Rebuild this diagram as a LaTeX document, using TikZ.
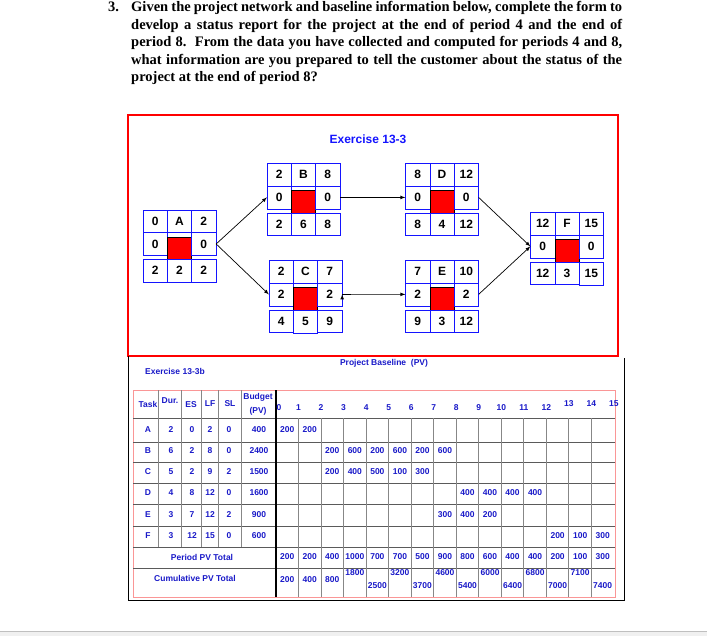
\documentclass[tikz,border=0pt]{standalone}
\usepackage{fontspec}
\setmainfont{Liberation Serif}
\newfontfamily\arialfont{Liberation Sans}
\usepackage{tikz}
\usetikzlibrary{arrows,positioning,matrix}

\definecolor{netblue}{RGB}{20,20,255}
\definecolor{tblblue}{RGB}{25,25,200}
\definecolor{framepink}{RGB}{250,150,150}
\definecolor{rowgray}{RGB}{90,90,90}
\definecolor{colgray}{RGB}{135,135,135}

\begin{document}
\begin{tikzpicture}[
            x=1pt,y=-1pt,
            cell/.style={draw=netblue,minimum width=24.3pt,minimum height=22.7pt,inner sep=0pt,
              font=\arialfont\bfseries\fontsize{12}{14}\selectfont},
            act/.style={matrix of nodes,nodes in empty cells,inner sep=0pt,
              column sep=-\pgflinewidth,row sep=-\pgflinewidth,nodes={cell}},
            crit/.style={fill=red,draw=black},
            link/.style={draw,->,>=latex,line width=.7pt},
            tbl/.style={inner sep=0pt,text=tblblue,font=\arialfont\bfseries\fontsize{8.5}{10}\selectfont},
            rowline/.style={rowgray,line width=.8pt},
            colline/.style={colgray,line width=.8pt}
          ]
          \useasboundingbox (0,0) rectangle (707,636);

          %question
          \node[anchor=base west,inner sep=0pt,font=\bfseries\fontsize{14.5}{17.5}\selectfont] (num) at (108,12) {3.};
          \node[anchor=north west,inner sep=0pt,text width=491pt,align=justify,
                font=\bfseries\fontsize{14.5}{17.5}\selectfont] (question) at (131,1.5)
            {Given the project network and baseline information below, complete the form to\linebreak
             develop a status report for the project at the end of period 4 and the end of\linebreak
             period 8.\ \ From the data you have collected and computed for periods 4 and 8,\linebreak
             what information are you prepared to tell the customer about the status of the\linebreak
             project at the end of period 8?};

          %frames
          \draw[red,line width=2pt] (128,115) rectangle (618,356);
          \draw[black,line width=.8pt] (128,356) -- (128,600) -- (624,600) -- (624,358);
          \fill[black!6] (0,632) rectangle (707,636);
          \draw[black!25] (0,631.5) -- (707,631.5);

          %network
          \node[text=netblue,font=\arialfont\bfseries\fontsize{12}{14}\selectfont] (title) at (368,139) {Exercise 13-3};
          \matrix (actA) [act] at (179.5,246) { 0 & A & 2 \\ 0 & |[crit]| & 0 \\ 2 & 2 & 2 \\ };
          \matrix (actB) [act] at (303.5,199.5) { 2 & B & 8 \\ 0 & |[crit]| & 0 \\ 2 & 6 & 8 \\ };
          \matrix (actC) [act] at (305.5,296.5) { 2 & C & 7 \\ 2 & |[crit]| & 2 \\ 4 & 5 & 9 \\ };
          \matrix (actD) [act] at (442,199.5) { 8 & D & 12 \\ 0 & |[crit]| & 0 \\ 8 & 4 & 12 \\ };
          \matrix (actE) [act] at (442,296.5) { 7 & E & 10 \\ 2 & |[crit]| & 2 \\ 9 & 3 & 12 \\ };
          \matrix (actF) [act] at (567,248.5) { 12 & F & 15 \\ 0 & |[crit]| & 0 \\ 12 & 3 & 15 \\ };

          %links
          \coordinate (fin) at (actF-2-1.west);
          \coordinate (dout) at (actD-2-3.east);
          \coordinate (eout) at (actE-2-3.east);
          \path[link]
          (actA-2-3.east) edge (actB-2-1.west)
          (actA-2-3.east) edge (actC-2-1.west)
          (actB-2-3.east) edge (actD-2-1.west)
          (actC-2-3.east) edge (actE-2-1.west)
          ;
          \draw[link] (dout) -- (fin);
          \draw[link] (eout) -- (fin);

          %table grid
          \draw[framepink,line width=.8pt] (133,390) rectangle (615,597);
          \foreach \y in {418,442,462,483,504,526,547,568}
            \draw[rowline] (133,\y) -- (615,\y);
          \foreach \x in {158,181,201,218,241}
            \draw[colline] (\x,390) -- (\x,547);
          \foreach \i in {1,...,14}
            \draw[colline] ({276+22.53*\i},418) -- ({276+22.53*\i},597);
          \draw[black,line width=1.1pt] (276,390) -- (276,597);

          %table labels
          \node[tbl] (sub) at (175,371) {Exercise 13-3b};
          \node[tbl] (base) at (384,363) {Project Baseline\ \ (PV)};
          \node[tbl] (h-task) at (148,404) {Task};
          \node[tbl] (h-dur) at (170,401) {Dur.};
          \node[tbl] (h-es) at (191,405) {ES};
          \node[tbl] (h-lf) at (210,404) {LF};
          \node[tbl] (h-sl) at (230,404) {SL};
          \node[tbl] (h-bud) at (258,397) {Budget};
          \node[tbl] (h-pv) at (258,411) {(PV)};
          \foreach \i in {0,...,15}
            \node[tbl] (t-\i) at ({276+22.53*\i+(\i==0)*3},{408-(\i>12)*4}) {\i};

          %task data
          \foreach \t/\ty/\dur/\es/\lf/\sl/\bud in {A/430/2/0/2/0/400,B/451/6/2/8/0/2400,C/472/5/2/9/2/1500,
                                                 D/493/4/8/12/0/1600,E/515/3/7/12/2/900,F/536/3/12/15/0/600}{
            \node[tbl] (task-\t) at (148,\ty) {\t};
            \node[tbl] (dur-\t) at (171,\ty) {\dur};
            \node[tbl] (es-\t) at (192,\ty) {\es};
            \node[tbl] (lf-\t) at (210,\ty) {\lf};
            \node[tbl] (sl-\t) at (229,\ty) {\sl};
            \node[tbl] (bud-\t) at (259,\ty) {\bud};
          }

          %baseline (PV) per period
          \foreach \v [count=\k from 1] in {200,200}
            \node[tbl] (pa-\k) at ({276+22.53*(\k-.5)},430) {\v};
          \foreach \v [count=\k from 3] in {200,600,200,600,200,600}
            \node[tbl] (pb-\k) at ({276+22.53*(\k-.5)},451) {\v};
          \foreach \v [count=\k from 3] in {200,400,500,100,300}
            \node[tbl] (pc-\k) at ({276+22.53*(\k-.5)},472) {\v};
          \foreach \v [count=\k from 9] in {400,400,400,400}
            \node[tbl] (pd-\k) at ({276+22.53*(\k-.5)},493) {\v};
          \foreach \v [count=\k from 8] in {300,400,200}
            \node[tbl] (pe-\k) at ({276+22.53*(\k-.5)},515) {\v};
          \foreach \v [count=\k from 13] in {200,100,300}
            \node[tbl] (pf-\k) at ({276+22.53*(\k-.5)},536) {\v};

          %totals
          \node[tbl] (per) at (202,557) {Period PV Total};
          \node[tbl] (cum) at (195,578) {Cumulative PV Total};
          \foreach \v [count=\k] in {200,200,400,1000,700,700,500,900,800,600,400,400,200,100,300}
            \node[tbl] (ptot-\k) at ({276+22.53*(\k-.5)},557) {\v};
          \foreach \v [count=\k] in {200,400,800,1800,2500,3200,3700,4600,5400,6000,6400,6800,7000,7100,7400}
            \node[tbl] (ctot-\k) at ({276+22.53*(\k-.5)},{\k<4 ? 580 : (isodd(\k) ? 586 : 573)}) {\v};

      \end{tikzpicture}
\end{document}
